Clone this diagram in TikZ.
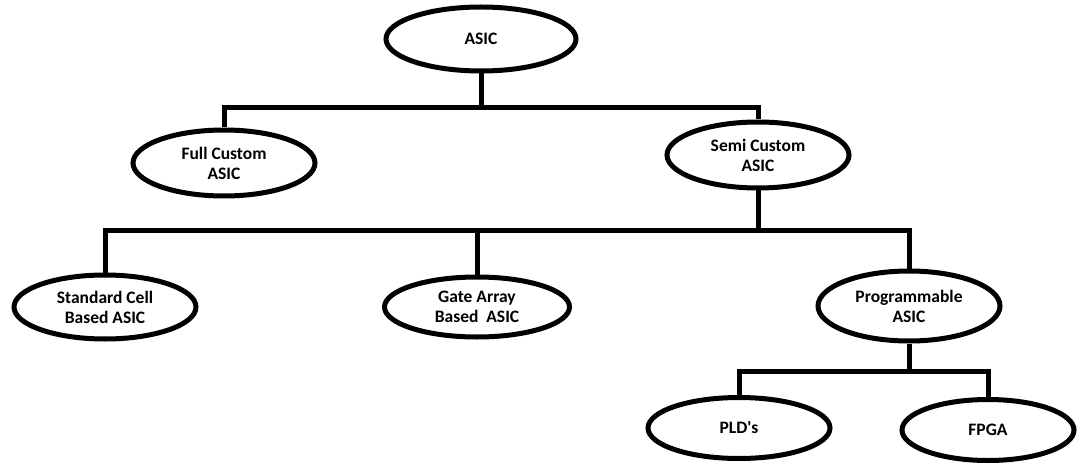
\documentclass[tikz,border=0pt]{standalone}
\usepackage{fontspec}
\setmainfont{Carlito}
\usetikzlibrary{shapes.geometric}

\begin{document}
\begin{tikzpicture}[x=1pt,y=-1pt,line width=5pt,
    oval/.style={ellipse,draw,align=center,inner sep=0pt,
      font=\bfseries\fontsize{17.5}{20}\selectfont,
      minimum width=182pt,minimum height=64pt}]
    \useasboundingbox (0,0) rectangle (1078,465);
      % top level
      \node[oval,minimum width=190pt](asic) at (481,39){ASIC};
      \node[oval,minimum height=66pt](full) at (224,163){Full Custom\\ASIC};
      \node[oval,minimum height=66pt](semi) at (758,155){Semi Custom\\ASIC};
      % second level
      \node[oval](std) at (105,307){Standard Cell\\Based ASIC};
      \node[oval,minimum width=185pt,minimum height=60pt](gate) at (477,307){Gate Array\\Based~~ASIC};
      \node[oval,minimum height=70pt](prog) at (909,306){Programmable\\ASIC};
      % programmable
      \node[oval,minimum height=61pt](pld) at (739,428){PLD\textquotesingle s};
      \node[oval,minimum width=172pt,minimum height=61pt](fpga) at (988,430){FPGA};
      % connectors
      \coordinate (j1) at (481,108);
      \coordinate (j2) at (758,230);
      \coordinate (j3) at (909,371);
      \draw (asic) -- (j1);
      \draw (full.north) |- (j1) -| (semi.north);
      \draw (semi) -- (j2);
      \draw (std.north) |- (j2) -| (prog.north);
      \draw (gate) -- (gate |- j2);
      \draw (prog) -- (j3);
      \draw (pld.north) |- (j3) -| (fpga.north);
    \end{tikzpicture}
\end{document}
